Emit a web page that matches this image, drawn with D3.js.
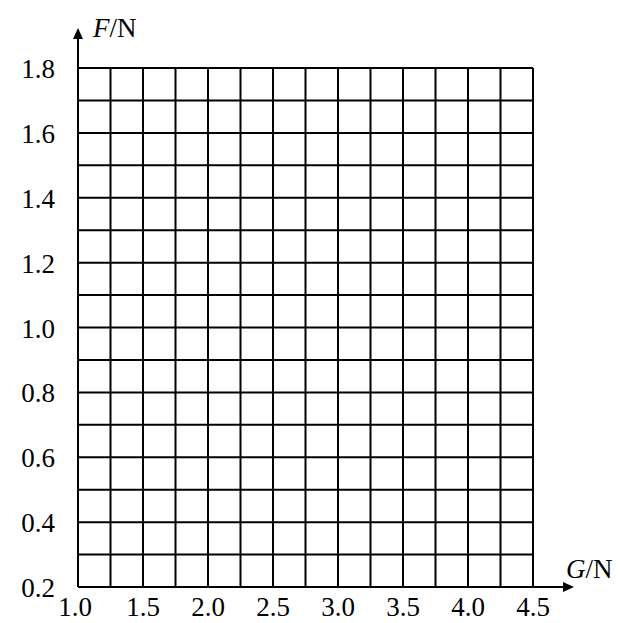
<!DOCTYPE html>
<html>
<head>
<meta charset="utf-8">
<script src="https://cdn.jsdelivr.net/npm/d3@7"></script>
<style>
  html, body { margin: 0; padding: 0; background: #fff; }
  svg { display: block; }
  text { font-family: "Liberation Serif", "Times New Roman", serif; fill: #000; }
</style>
</head>
<body>
<div id="chart"></div>
<script>
// axis values
const xTicks = [1.0, 1.5, 2.0, 2.5, 3.0, 3.5, 4.0, 4.5];
const yTicks = [0.2, 0.4, 0.6, 0.8, 1.0, 1.2, 1.4, 1.6, 1.8];
const xGrid = [1.0, 1.25, 1.5, 1.75, 2.0, 2.25, 2.5, 2.75, 3.0, 3.25, 3.5, 3.75, 4.0, 4.25, 4.5];
const yGrid = [0.2, 0.3, 0.4, 0.5, 0.6, 0.7, 0.8, 0.9, 1.0, 1.1, 1.2, 1.3, 1.4, 1.5, 1.6, 1.7, 1.8];

const width = 620, height = 623;
const plotLeft = 78, plotRight = 533, plotTop = 68, plotBottom = 587;

const x = d3.scaleLinear().domain([1.0, 4.5]).range([plotLeft, plotRight]);
const y = d3.scaleLinear().domain([0.2, 1.8]).range([plotBottom, plotTop]);

const svg = d3.select('#chart').append('svg')
    .attr('width', width)
    .attr('height', height);

// grid
const grid = svg.append('g')
    .attr('stroke', '#000')
    .attr('stroke-width', 2);

grid.selectAll('line.v').data(xGrid).enter().append('line')
    .attr('class', 'v')
    .attr('x1', d => x(d)).attr('x2', d => x(d))
    .attr('y1', y(1.8)).attr('y2', y(0.2));

grid.selectAll('line.h').data(yGrid).enter().append('line')
    .attr('class', 'h')
    .attr('x1', x(1.0)).attr('x2', x(4.5))
    .attr('y1', d => y(d)).attr('y2', d => y(d));

// axes with arrows
const yTip = 28, xTip = 574;
svg.append('line')
    .attr('x1', plotLeft).attr('x2', plotLeft)
    .attr('y1', plotBottom).attr('y2', yTip + 8)
    .attr('stroke', '#000').attr('stroke-width', 2);
svg.append('path')
    .attr('d', `M${plotLeft},${yTip} L${plotLeft - 5},${yTip + 11} L${plotLeft + 5},${yTip + 11} Z`)
    .attr('fill', '#000');

svg.append('line')
    .attr('x1', plotLeft).attr('x2', xTip - 8)
    .attr('y1', plotBottom).attr('y2', plotBottom)
    .attr('stroke', '#000').attr('stroke-width', 2);
svg.append('path')
    .attr('d', `M${xTip},${plotBottom} L${xTip - 11},${plotBottom - 5} L${xTip - 11},${plotBottom + 5} Z`)
    .attr('fill', '#000');

// tick labels
svg.selectAll('text.yl').data(yTicks).enter().append('text')
    .attr('class', 'yl')
    .attr('x', 55)
    .attr('y', d => y(d) + 10)
    .attr('text-anchor', 'end')
    .style('font-size', '27px')
    .text(d => d.toFixed(1));

svg.selectAll('text.xl').data(xTicks).enter().append('text')
    .attr('class', 'xl')
    .attr('x', d => x(d) - (d === 1.0 ? 3 : 0))
    .attr('y', 616)
    .attr('text-anchor', 'middle')
    .style('font-size', '27px')
    .text(d => d.toFixed(1));

// axis titles
const fLabel = svg.append('text')
    .attr('x', 93).attr('y', 37)
    .style('font-size', '27px');
fLabel.append('tspan').style('font-style', 'italic').text('F');
fLabel.append('tspan').text('/N');

const gLabel = svg.append('text')
    .attr('x', 566).attr('y', 578)
    .style('font-size', '27px');
gLabel.append('tspan').style('font-style', 'italic').text('G');
gLabel.append('tspan').text('/N');
</script>
</body>
</html>
